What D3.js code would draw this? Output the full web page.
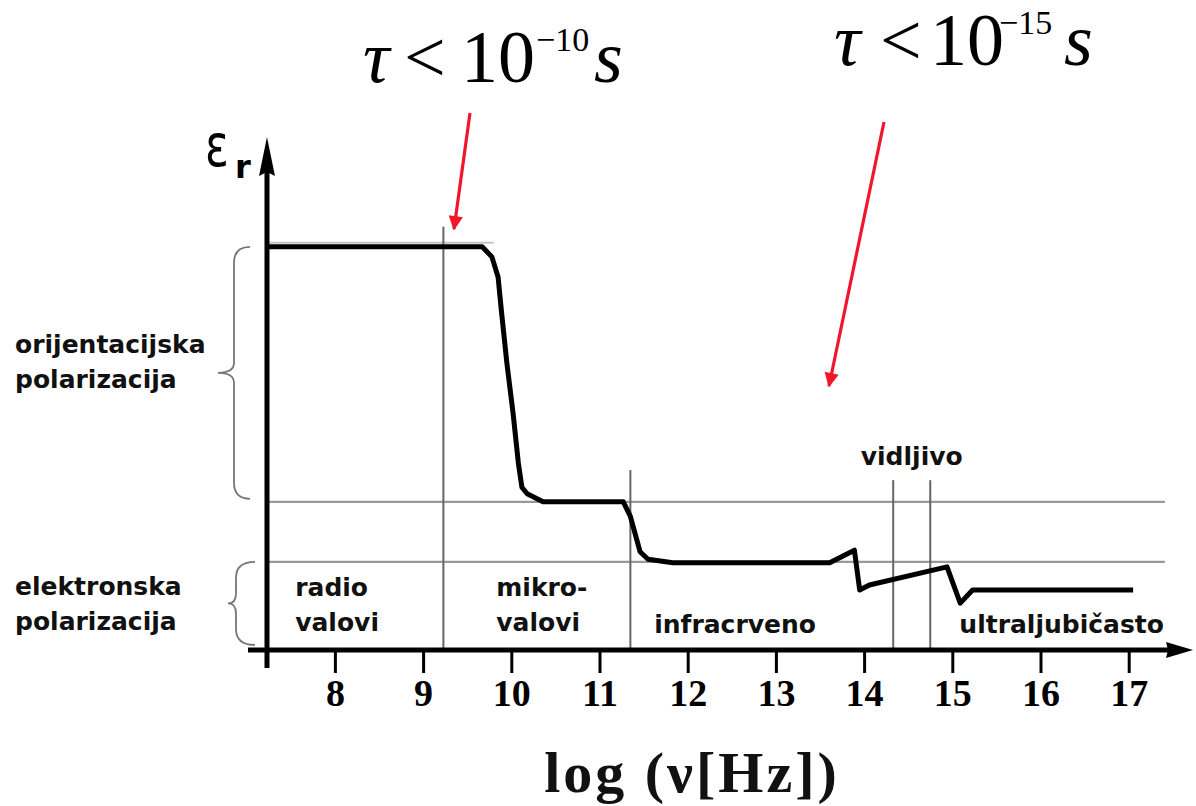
<!DOCTYPE html>
<html><head><meta charset="utf-8">
<script src="https://cdn.jsdelivr.net/npm/d3@7"></script>
<style>
html,body{margin:0;padding:0;background:#fff;}
svg{display:block;}
</style></head>
<body>
<svg id="c" width="1196" height="806"></svg>
<script>
// ---- data ----
const tickValues = [8, 9, 10, 11, 12, 13, 14, 15, 16, 17];
const curveX = [7.23, 9.67, 9.78, 9.85, 9.89, 9.95, 10.02, 10.08, 10.12, 10.18, 10.36, 11.27, 11.35, 11.46, 11.55, 11.83, 13.61, 13.89, 13.95, 14.06, 14.94, 15.09, 15.23, 17.05];
const curveY = [8.00, 8.00, 7.80, 7.40, 6.69, 5.69, 4.70, 3.71, 3.23, 3.10, 2.94, 2.94, 2.65, 1.95, 1.80, 1.73, 1.73, 1.98, 1.19, 1.29, 1.65, 0.93, 1.19, 1.19];
const levelValues = [2.94, 1.75];           // horizontal reference levels
const bandEdges = [9.23, 11.35, 14.33, 14.75]; // vertical boundaries
const bandTop = [8.4, 3.57, 3.37, 3.37];
const bandLabels = [
  {lines: ["radio", "valovi"], x: 7.55},
  {lines: ["mikro-", "valovi"], x: 9.83},
  {lines: ["infracrveno"], x: 11.62},
  {lines: ["ultraljubičasto"], x: 15.08}
];
const visibleLabel = "vidljivo";
const leftLabels = [
  {lines: ["orijentacijska", "polarizacija"], from: 8.0, to: 3.0},
  {lines: ["elektronska", "polarizacija"], from: 1.75, to: 0.1}
];
const xTitle = "log (ν[Hz])";

// ---- scales ----
const x = d3.scaleLinear().domain([8, 17]).range([334.9, 1128.7]);
const y = d3.scaleLinear().domain([0, 10]).range([650, 146]);
const svg = d3.select("#c");
const x0 = x(7.23), y0 = y(0);

const defs = svg.append("defs");
defs.append("marker").attr("id","red").attr("viewBox","0 0 10 10").attr("refX",9).attr("refY",5)
  .attr("markerWidth",5).attr("markerHeight",4.5).attr("markerUnits","strokeWidth").attr("orient","auto")
  .append("path").attr("d","M0,0 L10,5 L0,10 z").attr("fill","#f0162b");

// gray reference lines
const gray = "#8a8a8a";
svg.append("line").attr("x1", x0).attr("x2", x(9.8)).attr("y1", y(8.08)).attr("y2", y(8.08))
  .attr("stroke","#c4c4c4").attr("stroke-width",2);
svg.selectAll(".lvl").data(levelValues).enter().append("line")
  .attr("x1", x0).attr("x2", x(17.41)).attr("y1", d=>y(d)).attr("y2", d=>y(d))
  .attr("stroke", "#999").attr("stroke-width", 2.2);
svg.selectAll(".band").data(bandEdges).enter().append("line")
  .attr("x1", d=>x(d)).attr("x2", d=>x(d)).attr("y1", (d,i)=>y(bandTop[i])).attr("y2", y0)
  .attr("stroke", "#666").attr("stroke-width", 2);

// axis (ticks)
const axis = d3.axisBottom(x).tickValues(tickValues).tickSize(23).tickPadding(6).tickFormat(d3.format("d"));
const ag = svg.append("g").attr("transform", `translate(0,${y0})`).call(axis);
ag.select(".domain").remove();
ag.selectAll(".tick line").attr("stroke","#000").attr("stroke-width",3);
ag.selectAll(".tick text").attr("font-family","Liberation Serif").attr("font-weight","bold")
  .attr("font-size",38).attr("fill","#000");

// axis lines with arrows
svg.append("line").attr("x1", 248).attr("x2", 1172).attr("y1", y0).attr("y2", y0).attr("stroke","#000").attr("stroke-width",5);
svg.append("path").attr("d", `M1193,${y0} L1166,${y0-8} L1168,${y0} L1166,${y0+8} Z`).attr("fill","#000");
svg.append("line").attr("x1", x0).attr("x2", x0).attr("y1", 668).attr("y2", 160).attr("stroke","#000").attr("stroke-width",5);
svg.append("path").attr("d", `M${x0},${y(10.18)} L${x0-8},176 L${x0},172 L${x0+8},176 Z`).attr("fill","#000");

// epsilon label
svg.append("text").attr("x", 205).attr("y", 166).attr("font-family","DejaVu Sans").attr("font-size",42)
  .attr("transform", "translate(205,166) scale(1.05,1.4) translate(-205,-166)")
  .text("ε");
svg.append("text").attr("x", 235).attr("y", 178).attr("font-family","DejaVu Sans").attr("font-weight","bold").attr("font-size",32).text("r");

// curve
const pts = curveX.map((d,i)=>[d, curveY[i]]);
svg.append("path").datum(pts)
  .attr("d", d3.line().x(d=>x(d[0])).y(d=>y(d[1])))
  .attr("fill","none").attr("stroke","#000").attr("stroke-width",5).attr("stroke-linejoin","round");

// braces
function brace(xr, xl, xt, ya, yb){
  const ym = (ya+yb)/2;
  return `M${xr},${ya} Q${xl},${ya} ${xl},${ya+16} L${xl},${ym-10} Q${xl},${ym} ${xt},${ym} Q${xl},${ym} ${xl},${ym+10} L${xl},${yb-16} Q${xl},${yb} ${xr},${yb}`;
}
const braceGeo = [[250, 234, 218], [255, 236, 228]];
leftLabels.forEach((L,i)=>{
  const g = braceGeo[i];
  svg.append("path").attr("d", brace(g[0], g[1], g[2], y(L.from), y(L.to)))
    .attr("fill","none").attr("stroke","#777").attr("stroke-width",1.8);
});

const sans = sel => sel.attr("font-family","DejaVu Sans").attr("font-weight","bold").attr("font-size",25).attr("fill","#111");

// left labels
const leftBase = [353, 595];
leftLabels.forEach((L,i)=>{
  const t = svg.append("text").call(sans);
  L.lines.forEach((s,j)=> t.append("tspan").attr("x", 15).attr("y", leftBase[i] + j*35).text(s));
});

// band labels
bandLabels.forEach((b,i)=>{
  const t = svg.append("text").call(sans);
  b.lines.forEach((s,j)=>{
    const yy = b.lines.length === 2 ? 596 + j*35 : 633;
    t.append("tspan").attr("x", x(b.x)).attr("y", yy).text(s);
  });
});
svg.append("text").call(sans).attr("x", (x(bandEdges[2])+x(bandEdges[3]))/2).attr("y", 465)
  .attr("text-anchor","middle").text(visibleLabel);

// x title
svg.append("text").attr("x", 692).attr("y", 792).attr("text-anchor","middle")
  .attr("font-family","Liberation Serif").attr("font-weight","bold").attr("font-size",58)
  .attr("letter-spacing", 3).attr("fill","#111")
  .text(xTitle);

// tau annotations
function tau(xs, base, exp){
  const t = svg.append("text").attr("font-family","Liberation Serif").attr("font-size",74).attr("fill","#000");
  t.append("tspan").attr("x", xs[0]).attr("y", base).attr("font-style","italic").text("τ");
  t.append("tspan").attr("x", xs[1]).attr("y", base).text("<");
  t.append("tspan").attr("x", xs[2]).attr("y", base).text("10");
  t.append("tspan").attr("x", xs[3]).attr("y", base-31).attr("font-size",34).text(exp);
  t.append("tspan").attr("x", xs[4]).attr("y", base).attr("font-style","italic").text("s");
}
tau([363, 404, 461, 536, 594], 82, "−10");
tau([834, 880, 930, 999, 1064], 65, "−15");

// red arrows
svg.append("line").attr("x1", 470).attr("y1", 113).attr("x2", 454).attr("y2", 229)
  .attr("stroke","#f0162b").attr("stroke-width",3.2).attr("marker-end","url(#red)");
svg.append("line").attr("x1", 884).attr("y1", 122).attr("x2", 829).attr("y2", 386)
  .attr("stroke","#f0162b").attr("stroke-width",3.2).attr("marker-end","url(#red)");
</script>
</body></html>
